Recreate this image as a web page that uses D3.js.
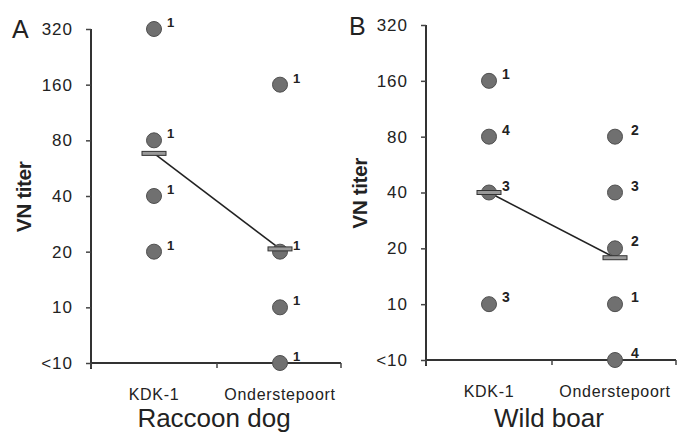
<!DOCTYPE html>
<html>
<head>
<meta charset="utf-8">
<script src="https://cdn.jsdelivr.net/npm/d3@7"></script>
<style>
  body { margin: 0; background: #fff; }
  text { font-family: "Liberation Sans", Arial, sans-serif; fill: #222; }
</style>
</head>
<body>
<div id="chart"></div>
<script>
// categories and titer ticks ("<10" is drawn at 5)
var categories = ["KDK-1", "Onderstepoort"];
var yTicks = [5, 10, 20, 40, 80, 160, 320];
var yTickLabels = ["<10", "10", "20", "40", "80", "160", "320"];

// Raccoon dog: titers and number of animals per titer
var rdKdkTiters = [320, 80, 40, 20];
var rdKdkCounts = [1, 1, 1, 1];
var rdOndTiters = [160, 20, 10, 5];
var rdOndCounts = [1, 1, 1, 1];
var rdMeans = [68, 20.7];

// Wild boar
var wbKdkTiters = [160, 80, 40, 10];
var wbKdkCounts = [1, 4, 3, 3];
var wbOndTiters = [80, 40, 20, 10, 5];
var wbOndCounts = [2, 3, 2, 1, 4];
var wbMeans = [40, 17.8];

var width = 678, height = 435;

var svg = d3.select("#chart").append("svg")
    .attr("width", width)
    .attr("height", height);

var panels = [
    {letter: "A", title: "Raccoon dog", x0: 91, x1: 343, yTop: 29, yBot: 363,
     groups: [[rdKdkTiters, rdKdkCounts], [rdOndTiters, rdOndCounts]], means: rdMeans,
     letterX: 12, letterY: 38, labelX: 31, countSize: 13},
    {letter: "B", title: "Wild boar", x0: 426, x1: 678, yTop: 25, yBot: 360,
     groups: [[wbKdkTiters, wbKdkCounts], [wbOndTiters, wbOndCounts]], means: wbMeans,
     letterX: 349, letterY: 35, labelX: 367, countSize: 14}
];

panels.forEach(function (p) {
    var y = d3.scaleLog().base(2).domain([5, 320]).range([p.yBot, p.yTop]);
    var x = d3.scaleBand().domain(categories).range([p.x0, p.x1]);
    var cx = function (c) { return x(c) + x.bandwidth() / 2; };

    var g = svg.append("g");

    // y axis
    var yAxis = d3.axisLeft(y)
        .tickValues(yTicks)
        .tickFormat(function (d, i) { return yTickLabels[i]; })
        .tickSize(5)
        .tickPadding(13);
    var ya = g.append("g").attr("transform", "translate(" + p.x0 + ",0)").call(yAxis);
    ya.select(".domain").attr("stroke", "#333").attr("stroke-width", 2)
        .attr("d", "M0," + p.yTop + "V" + (p.yBot + 6));
    ya.selectAll(".tick line").attr("stroke", "#444").attr("stroke-width", 1.5);
    ya.selectAll(".tick text")
        .style("font-size", "17px")
        .style("letter-spacing", "1px")
        .attr("fill", "#222");

    // x axis
    var xa = g.append("g").attr("transform", "translate(0," + p.yBot + ")");
    xa.append("line").attr("x1", p.x0).attr("x2", p.x1 - 2)
        .attr("stroke", "#333").attr("stroke-width", 2);
    var edges = categories.map(function (c) { return x(c); }).concat([x(categories[1]) + x.bandwidth() - 2]);
    xa.selectAll(".xt").data(edges).enter().append("line")
        .attr("x1", function (d) { return d; }).attr("x2", function (d) { return d; })
        .attr("y1", 0).attr("y2", 5)
        .attr("stroke", "#444").attr("stroke-width", 1.5);
    xa.selectAll(".xl").data(categories).enter().append("text")
        .attr("x", function (d) { return cx(d); })
        .attr("y", 37)
        .attr("text-anchor", "middle")
        .style("font-size", "16px")
        .style("letter-spacing", "0.7px")
        .text(function (d) { return d; });

    // titles
    g.append("text").attr("x", (p.x0 + p.x1) / 2 - 3).attr("y", 427)
        .attr("text-anchor", "middle").style("font-size", "26px")
        .text(p.title);
    g.append("text").attr("x", p.letterX).attr("y", p.letterY)
        .style("font-size", "25px").text(p.letter);
    g.append("text")
        .attr("transform", "translate(" + p.labelX + "," + ((p.yTop + p.yBot) / 2 + 1) + ") rotate(-90)")
        .attr("text-anchor", "middle")
        .style("font-size", "21px")
        .style("font-weight", "bold")
        .style("letter-spacing", "-0.5px")
        .text("VN titer");

    // mean line and markers
    var meanPts = categories.map(function (c, i) { return [cx(c), y(p.means[i])]; });
    g.append("path")
        .attr("d", d3.line()(meanPts))
        .attr("fill", "none").attr("stroke", "#222").attr("stroke-width", 1.6);

    // dots with counts
    categories.forEach(function (c, i) {
        var titers = p.groups[i][0], counts = p.groups[i][1];
        var pts = titers.map(function (t, j) { return {t: t, n: counts[j]}; });
        g.selectAll(null).data(pts).enter().append("circle")
            .attr("cx", cx(c))
            .attr("cy", function (d) { return y(d.t); })
            .attr("r", 7.5)
            .attr("fill", "#707070")
            .attr("stroke", "#505050")
            .attr("stroke-width", 1);
        g.selectAll(null).data(pts).enter().append("text")
            .attr("x", cx(c) + 13 + (i === 1 && p.letter === "B" ? 3 : 0))
            .attr("y", function (d) { return y(d.t) - 2; })
            .style("font-size", p.countSize + "px")
            .style("font-weight", "bold")
            .attr("fill", "#333")
            .text(function (d) { return d.n; });
    });

    g.selectAll(null).data(meanPts).enter().append("rect")
        .attr("x", function (d) { return d[0] - 12; })
        .attr("y", function (d) { return d[1] - 2; })
        .attr("width", 24).attr("height", 4)
        .attr("fill", "#999").attr("stroke", "#333").attr("stroke-width", 1);
});
</script>
</body>
</html>
